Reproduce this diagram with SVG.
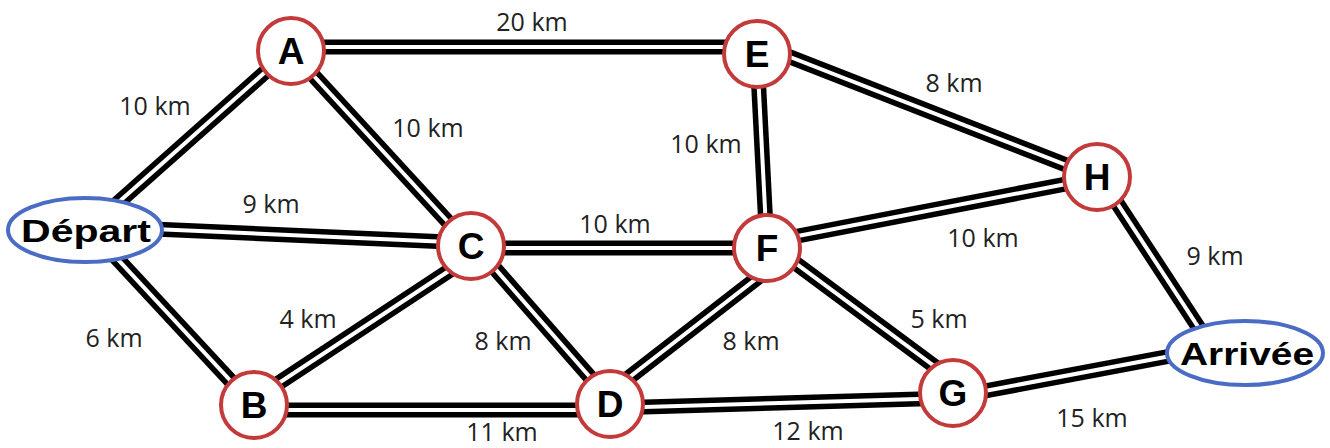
<svg xmlns="http://www.w3.org/2000/svg" width="1330" height="448" viewBox="0 0 1330 448">
<style>
.o{stroke:#000;stroke-width:15;fill:none}
.i{stroke:#fff;stroke-width:4;fill:none}
.n circle{fill:#fff;stroke:#c23a3a;stroke-width:4}
.n ellipse{fill:#fff;stroke:#4a6cc4;stroke-width:4}
.nl{font-family:"Liberation Sans",Arial,sans-serif;font-weight:bold;font-size:37px;fill:#000;text-anchor:middle}
.el{font-family:"Liberation Sans",Arial,sans-serif;font-weight:bold;font-size:32px;fill:#000;text-anchor:middle}
.lb{font-family:"Open Sans",sans-serif;font-size:25px;fill:#222;text-anchor:middle}
</style>
<defs>
<g id="edges-def">
<line x1="85" y1="232" x2="290" y2="50"/>
<line x1="290" y1="47" x2="757" y2="47"/>
<line x1="290" y1="50" x2="472" y2="248"/>
<line x1="85" y1="226" x2="472" y2="243"/>
<line x1="85" y1="224" x2="253" y2="405"/>
<line x1="253" y1="400" x2="470" y2="257"/>
<line x1="253" y1="410" x2="610" y2="410"/>
<line x1="470" y1="240" x2="610" y2="400"/>
<line x1="470" y1="248" x2="767" y2="248"/>
<line x1="600" y1="400" x2="770" y2="268"/>
<line x1="610" y1="408" x2="953" y2="398"/>
<line x1="757" y1="53" x2="767" y2="248"/>
<line x1="785" y1="55" x2="1097" y2="177"/>
<line x1="767" y1="242" x2="1097" y2="178"/>
<line x1="767" y1="242" x2="953" y2="380"/>
<line x1="953" y1="397" x2="1245" y2="342"/>
<line x1="1100" y1="177" x2="1212" y2="348"/>
</g>
</defs>
<rect width="1330" height="448" fill="#fff"/>
<g id="connectors">
<use href="#edges-def" class="o"/>
<use href="#edges-def" class="i"/>
</g>
<g id="labels">
<text class="lb" x="532" y="31">20 km</text>
<text class="lb" x="155" y="115">10 km</text>
<text class="lb" x="428" y="137">10 km</text>
<text class="lb" x="271" y="213">9 km</text>
<text class="lb" x="706" y="153">10 km</text>
<text class="lb" x="615" y="233">10 km</text>
<text class="lb" x="954" y="92">8 km</text>
<text class="lb" x="983" y="247">10 km</text>
<text class="lb" x="1215" y="265">9 km</text>
<text class="lb" x="114" y="347">6 km</text>
<text class="lb" x="308" y="328">4 km</text>
<text class="lb" x="503" y="350">8 km</text>
<text class="lb" x="751" y="350">8 km</text>
<text class="lb" x="502" y="441">11 km</text>
<text class="lb" x="808" y="440">12 km</text>
<text class="lb" x="939" y="328">5 km</text>
<text class="lb" x="1092" y="427">15 km</text>
</g>
<g id="node-depart" class="n"><ellipse cx="85" cy="230" rx="77" ry="32"/><text class="el" x="86" y="242" textLength="130" lengthAdjust="spacingAndGlyphs">Départ</text></g>
<g id="node-A" class="n"><circle cx="291" cy="51" r="33"/><text class="nl" x="291" y="64">A</text></g>
<g id="node-E" class="n"><circle cx="757" cy="54" r="33"/><text class="nl" x="757" y="67">E</text></g>
<g id="node-H" class="n"><circle cx="1097" cy="177" r="33"/><text class="nl" x="1097" y="190">H</text></g>
<g id="node-C" class="n"><circle cx="471" cy="246" r="33"/><text class="nl" x="471" y="259">C</text></g>
<g id="node-F" class="n"><circle cx="767" cy="248" r="33"/><text class="nl" x="767" y="261">F</text></g>
<g id="node-B" class="n"><circle cx="254" cy="405" r="33"/><text class="nl" x="254" y="418">B</text></g>
<g id="node-D" class="n"><circle cx="610" cy="404" r="33"/><text class="nl" x="610" y="417">D</text></g>
<g id="node-G" class="n"><circle cx="953" cy="393" r="33"/><text class="nl" x="953" y="406">G</text></g>
<g id="node-arrivee" class="n"><ellipse cx="1245" cy="353" rx="78" ry="32"/><text class="el" x="1247" y="365" textLength="134" lengthAdjust="spacingAndGlyphs">Arrivée</text></g>
</svg>
